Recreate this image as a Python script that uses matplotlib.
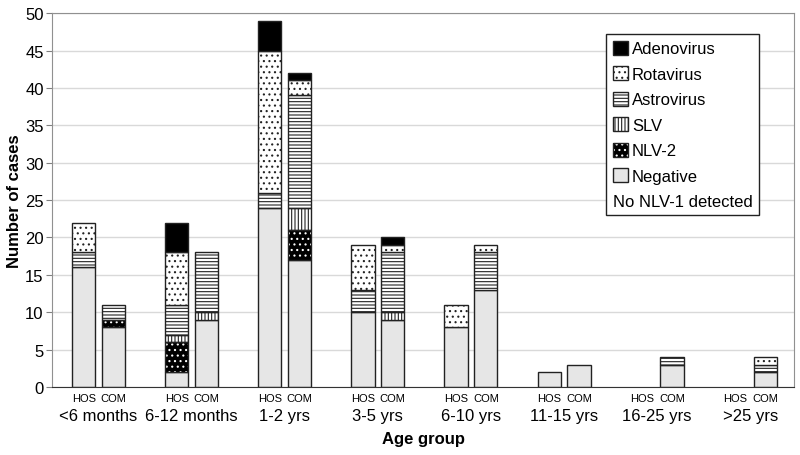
import numpy as np
import matplotlib.pyplot as plt
from matplotlib.patches import Patch

plt.rcParams['font.family'] = ['Liberation Sans', 'DejaVu Sans']
plt.rcParams['hatch.linewidth'] = 0.8

# Age groups and site labels
groups = ['<6 months', '6-12 months', '1-2 yrs', '3-5 yrs',
          '6-10 yrs', '11-15 yrs', '16-25 yrs', '>25 yrs']
sites = ['HOS', 'COM']

# Hospital cases (stacked bottom to top)
negative_hos = [16, 2, 24, 10, 8, 2, 0, 0]
nlv2_hos = [0, 4, 0, 0, 0, 0, 0, 0]
slv_hos = [0, 1, 0, 0, 0, 0, 0, 0]
astro_hos = [2, 4, 2, 3, 0, 0, 0, 0]
rota_hos = [4, 7, 19, 6, 3, 0, 0, 0]
adeno_hos = [0, 4, 4, 0, 0, 0, 0, 0]

# Community cases
negative_com = [8, 9, 17, 9, 13, 3, 3, 2]
nlv2_com = [1, 0, 4, 0, 0, 0, 0, 0]
slv_com = [0, 1, 3, 1, 0, 0, 0, 0]
astro_com = [2, 8, 15, 8, 5, 0, 1, 1]
rota_com = [0, 0, 2, 1, 1, 0, 0, 1]
adeno_com = [0, 0, 1, 1, 0, 0, 0, 0]

series = ['Negative', 'NLV-2', 'SLV', 'Astrovirus', 'Rotavirus', 'Adenovirus']
hos_stack = [negative_hos, nlv2_hos, slv_hos, astro_hos, rota_hos, adeno_hos]
com_stack = [negative_com, nlv2_com, slv_com, astro_com, rota_com, adeno_com]

edge = '#222222'
styles = {
    'Negative': ('#e6e6e6', None),
    'SLV': ('white', '|||||'),
    'Astrovirus': ('white', '-----'),
    'Rotavirus': ('white', '...'),
    'Adenovirus': ('black', None),
}

fig = plt.figure(figsize=(8, 4.56), dpi=100)
ax = fig.add_axes([0.065, 0.149, 0.9275, 0.820])

x = np.arange(len(groups))
width = 0.25
offset = 0.16


def draw_stack(xpos, stack):
    bottom = np.zeros(len(groups))
    for name, vals in zip(series, stack):
        vals = np.array(vals, dtype=float)
        m = vals > 0  # skip empty segments
        if name == 'NLV-2':
            ax.bar(xpos[m], vals[m], width, bottom=bottom[m], color='black',
                   edgecolor='white', hatch='...', lw=0, zorder=2)
            ax.bar(xpos[m], vals[m], width, bottom=bottom[m], fill=False,
                   edgecolor=edge, lw=1, zorder=3)
        else:
            fc, hatch = styles[name]
            ax.bar(xpos[m], vals[m], width, bottom=bottom[m], color=fc,
                   edgecolor=edge, hatch=hatch, lw=1, zorder=2)
        bottom += vals


draw_stack(x - offset, hos_stack)
draw_stack(x + offset, com_stack)

# Axes styling
ax.set_xlim(-0.5, 7.47)
ax.set_ylim(0, 50)
ax.set_yticks(range(0, 51, 5))
ax.yaxis.grid(True, color='#d9d9d9', lw=1)
ax.set_axisbelow(True)
ax.tick_params(axis='y', labelsize=12, length=4, color='#808080', pad=2)
for side in ['left', 'top', 'right']:
    ax.spines[side].set_color('#909090')
ax.spines['bottom'].set_color('#333333')

ax.set_xticks(x)
ax.set_xticklabels(groups, fontsize=12)
ax.tick_params(axis='x', which='major', length=0, pad=15)
ax.set_xticks(np.concatenate([x - offset, x + offset]), minor=True)
ax.set_xticklabels([sites[0]] * len(groups) + [sites[1]] * len(groups),
                   minor=True, fontsize=8)
ax.tick_params(axis='x', which='minor', length=0, pad=4)

ax.set_xlabel('Age group', fontsize=12, fontweight='bold', labelpad=6)
ax.set_ylabel('Number of cases', fontsize=12, fontweight='bold', labelpad=2)

# Legend
handles = [
    Patch(fc='black', ec=edge),
    Patch(fc='white', ec=edge, hatch='...'),
    Patch(fc='white', ec=edge, hatch='-----'),
    Patch(fc='white', ec=edge, hatch='|||||'),
    (Patch(fc='black', ec='white', hatch='...', lw=0), Patch(fill=False, ec=edge)),
    Patch(fc='#e6e6e6', ec=edge),
]
labels = ['Adenovirus', 'Rotavirus', 'Astrovirus', 'SLV', 'NLV-2', 'Negative']
leg = ax.legend(handles, labels, loc='upper right', bbox_to_anchor=(0.953, 0.944),
                borderaxespad=0, fancybox=False, edgecolor=edge, framealpha=1,
                fontsize=12, title='No NLV-1 detected', title_fontsize=12,
                alignment='left', handlelength=0.9, handleheight=0.9,
                handletextpad=0.25, labelspacing=0.59, borderpad=0.4)
leg.get_frame().set_linewidth(1)
# put the note below the entries
leg._legend_box._children = leg._legend_box._children[::-1]

fig.savefig('out.png', dpi=100)
